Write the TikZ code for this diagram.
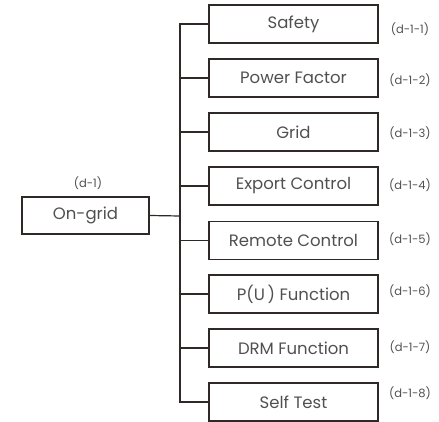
\documentclass[tikz,border=0pt]{standalone}
\usepackage{fontspec}
\setmainfont{Poppins}
\begin{document}
\begin{tikzpicture}[x=1pt,y=-1pt,
  box/.style={draw=linec,line width=1.2pt,minimum width=169pt,minimum height=38pt,inner sep=0pt,text=txtc,font=\fontsize{16.5}{18}\selectfont},
  pbox/.style={box,minimum width=127pt,minimum height=37pt},
  lab/.style={text=txtc,font=\fontsize{11.5}{13}\selectfont,inner sep=0pt},
  conn/.style={draw=linec,line width=1.2pt}]
\definecolor{linec}{HTML}{2E2826}
\definecolor{txtc}{HTML}{505050}
\useasboundingbox (0,0) rectangle (439,422);
\node[pbox] (p) at (85.5,215.5) {On-grid};
\node[lab] (pl) at (88,183) {(d-1)};
\coordinate (bus) at (180,216);
\foreach \i/\y/\t/\ly in {1/24/Safety/29,2/78/Power Factor/80,3/132/Grid/133,4/186/Export Control/185,5/240.5/Remote Control/239,6/294/P(U\,) Function/291,7/348/DRM Function/347,8/402/Self Test/393}{
  \node[box] (c\i) at (293.5,\y) {\t};
  \node[lab] (l\i) at (410,\ly) {(d-1-\i)};
}
\draw[conn] (p.east) -- (bus);
\draw[conn] (c1.west) -| (bus) |- (c8.west);
\foreach \i in {2,...,7}{\draw[conn] (c\i.west) -- (c\i.west -| bus);}
\end{tikzpicture}
\end{document}
